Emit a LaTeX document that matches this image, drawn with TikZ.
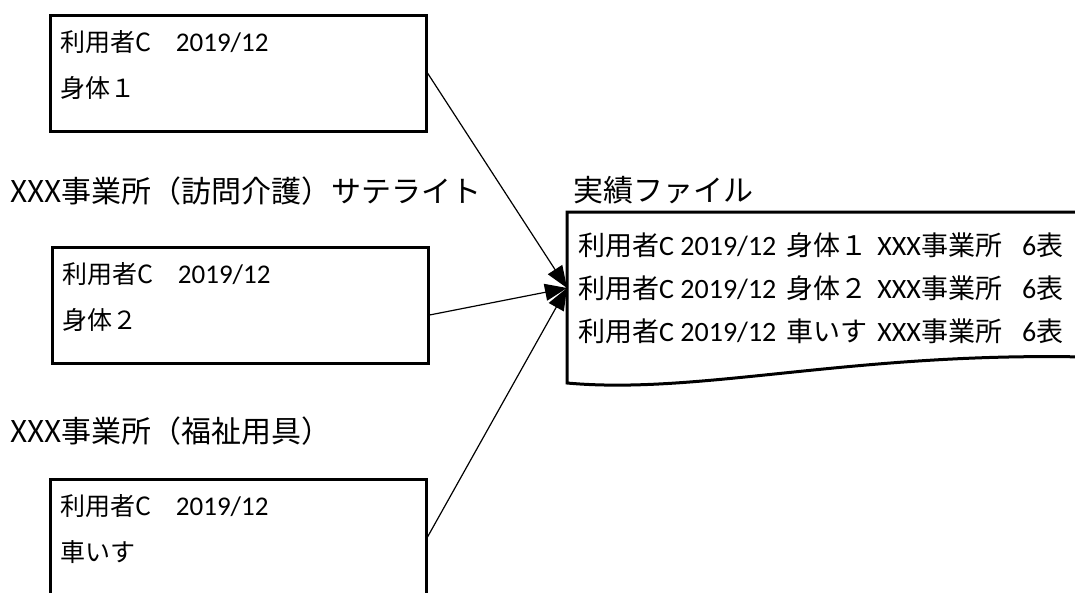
\documentclass[tikz,border=0pt]{standalone}
\usepackage{fontspec}
\setmainfont{Noto Sans CJK JP}
\newfontfamily\lat{Carlito}
\usetikzlibrary{arrows.meta,positioning}

\begin{document}
\begin{tikzpicture}[x = 1pt, y = -1pt,
  entry/.style = {draw, line width = 3pt, minimum width = 376pt, minimum height = 116pt,
    text width = 356pt, text depth = 64pt, align = left, inner xsep = 8pt,
    font = {\fontsize{25}{46}\selectfont}},
  title/.style = {anchor = west, inner sep = 0pt, font = {\fontsize{30}{34}\selectfont}},
  row/.style = {anchor = west, inner sep = 0pt, font = {\fontsize{27}{32}\selectfont}},
  feed/.style = {-{Triangle[length = 22pt, width = 17pt]}, line width = 1.2pt}]
\useasboundingbox (0,0) rectangle (1075,592);
% the three offices
\node[entry] (c1) at (238,73) {利用者C　{\lat\fontsize{27}{46}\selectfont 2019/12}\\身体１};
\node[title] (sat) at (10,191) {XXX事業所（訪問介護）サテライト};
\node[entry] (c2) at (240,305) {利用者C　{\lat\fontsize{27}{46}\selectfont 2019/12}\\身体２};
\node[title] (wel) at (10,431) {XXX事業所（福祉用具）};
\node[entry] (c3) at (238,537) {利用者C　{\lat\fontsize{27}{46}\selectfont 2019/12}\\車いす};
% result file
\node[title] (file) at (573,190) {実績ファイル};
\draw[line width = 3pt] (1085,212) -- (567,212) -- (567,383)
  .. controls (700,395) and (850,352) .. (1085,357);
\foreach \kind [count = \i] in {身体１, 身体２, 車いす}
  \node[row] (r\i) at (578,202 + 43*\i) {利用者{\lat\fontsize{28}{32}\selectfont C 2019/12}\hspace{10pt}\kind\hspace{10pt}{\lat\fontsize{28}{32}\selectfont XXX}事業所\hspace{20pt}{\lat\fontsize{28}{32}\selectfont 6}表};
\coordinate (inlet) at (567,288);
\draw[feed] (c1.east) -- (inlet);
\draw[feed] ([yshift = -10pt]c2.east) -- (inlet);
\draw[feed] (c3.east) -- (inlet);
\end{tikzpicture}
\end{document}
